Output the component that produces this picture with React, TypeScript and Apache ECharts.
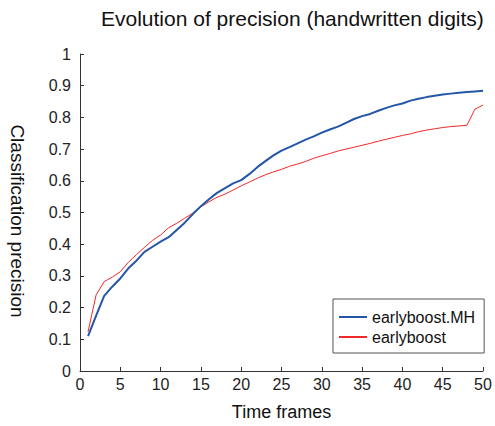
import React, { useEffect, useRef } from "react";
import * as echarts from "echarts";

const timeFrames = Array.from({ length: 50 }, (_, i) => i + 1);

const earlyboostMH = [
  0.11, 0.175, 0.237, 0.266, 0.292, 0.324, 0.348, 0.376, 0.392, 0.408,
  0.422, 0.445, 0.468, 0.495, 0.52, 0.542, 0.562, 0.577, 0.592, 0.602,
  0.621, 0.643, 0.662, 0.68, 0.695, 0.706, 0.718, 0.73, 0.74, 0.752,
  0.762, 0.771, 0.783, 0.795, 0.804, 0.811, 0.821, 0.83, 0.838, 0.844,
  0.853, 0.859, 0.864, 0.868, 0.872, 0.875, 0.878, 0.88, 0.882, 0.884,
];

const earlyboost = [
  0.124, 0.24, 0.282, 0.296, 0.313, 0.343, 0.367, 0.39, 0.412, 0.429,
  0.452, 0.466, 0.482, 0.498, 0.518, 0.534, 0.548, 0.558, 0.571, 0.584,
  0.596, 0.608, 0.619, 0.628, 0.636, 0.646, 0.653, 0.661, 0.671, 0.679,
  0.686, 0.694, 0.7, 0.706, 0.712, 0.718, 0.725, 0.731, 0.737, 0.743,
  0.748, 0.755, 0.76, 0.764, 0.768, 0.771, 0.773, 0.775, 0.826, 0.839,
];

const seriesNames = ["earlyboost.MH", "earlyboost"];
const titleText = "Evolution of precision (handwritten digits)";
const xAxisTitle = "Time frames";
const yAxisTitle = "Classification precision";

const FONT = "'Liberation Sans', Arial, Helvetica, sans-serif";
const AXIS_COLOR = "#333333";

export default function App() {
  const ref = useRef<HTMLDivElement>(null);

  useEffect(() => {
    if (!ref.current) return;
    const chart = echarts.init(ref.current, undefined, { renderer: "svg" });
    const axisCommon = {
      axisLine: { show: true, lineStyle: { color: AXIS_COLOR, width: 1 } },
      axisTick: { show: true, inside: true, length: 4, lineStyle: { color: AXIS_COLOR } },
      splitLine: { show: false },
      axisLabel: { color: "#222", fontSize: 16, fontFamily: FONT },
    };
    chart.setOption({
      animation: false,
      backgroundColor: "#ffffff",
      textStyle: { fontFamily: FONT },
      title: {
        text: titleText,
        left: 96,
        top: 3,
        textStyle: { fontSize: 21, fontWeight: "normal", color: "#111", fontFamily: FONT },
      },
      grid: { left: 77, right: 12, top: 54, bottom: 55, containLabel: false },
      legend: {
        orient: "vertical",
        left: 333,
        top: 299,
        data: seriesNames,
        itemWidth: 28,
        itemHeight: 16,
        itemGap: 4,
        padding: [10, 9, 8, 5],
        borderColor: "#555",
        borderWidth: 1,
        backgroundColor: "#fff",
        itemStyle: { opacity: 0 },
        textStyle: { fontSize: 16, color: "#111", fontFamily: FONT },
      },
      xAxis: {
        type: "value",
        min: 0,
        max: 50,
        interval: 5,
        name: xAxisTitle,
        nameLocation: "middle",
        nameGap: 32,
        nameTextStyle: { color: "#111", fontSize: 18, fontFamily: FONT },
        ...axisCommon,
        axisLabel: { ...axisCommon.axisLabel, margin: 5 },
      },
      yAxis: {
        type: "value",
        min: 0,
        max: 1,
        interval: 0.1,
        name: yAxisTitle,
        nameLocation: "middle",
        nameGap: 53,
        nameRotate: -90,
        nameTextStyle: {
          color: "#111",
          fontSize: 19,
          fontFamily: FONT,
          padding: [0, 0, 0, 17],
        },
        ...axisCommon,
        axisLabel: { ...axisCommon.axisLabel, margin: 9 },
      },
      series: [
        {
          name: seriesNames[0],
          type: "line",
          symbol: "none",
          data: timeFrames.map((t, i) => [t, earlyboostMH[i]]),
          lineStyle: { color: "#2356a8", width: 2 },
          itemStyle: { color: "#2356a8" },
          z: 3,
        },
        {
          name: seriesNames[1],
          type: "line",
          symbol: "none",
          data: timeFrames.map((t, i) => [t, earlyboost[i]]),
          lineStyle: { color: "#f02828", width: 1 },
          itemStyle: { color: "#f02828" },
          z: 2,
        },
      ],
    });
    return () => chart.dispose();
  }, []);

  return (
    <div
      ref={ref}
      style={{ position: "fixed", left: 0, top: 0, width: 495, height: 426, background: "#fff" }}
    />
  );
}
